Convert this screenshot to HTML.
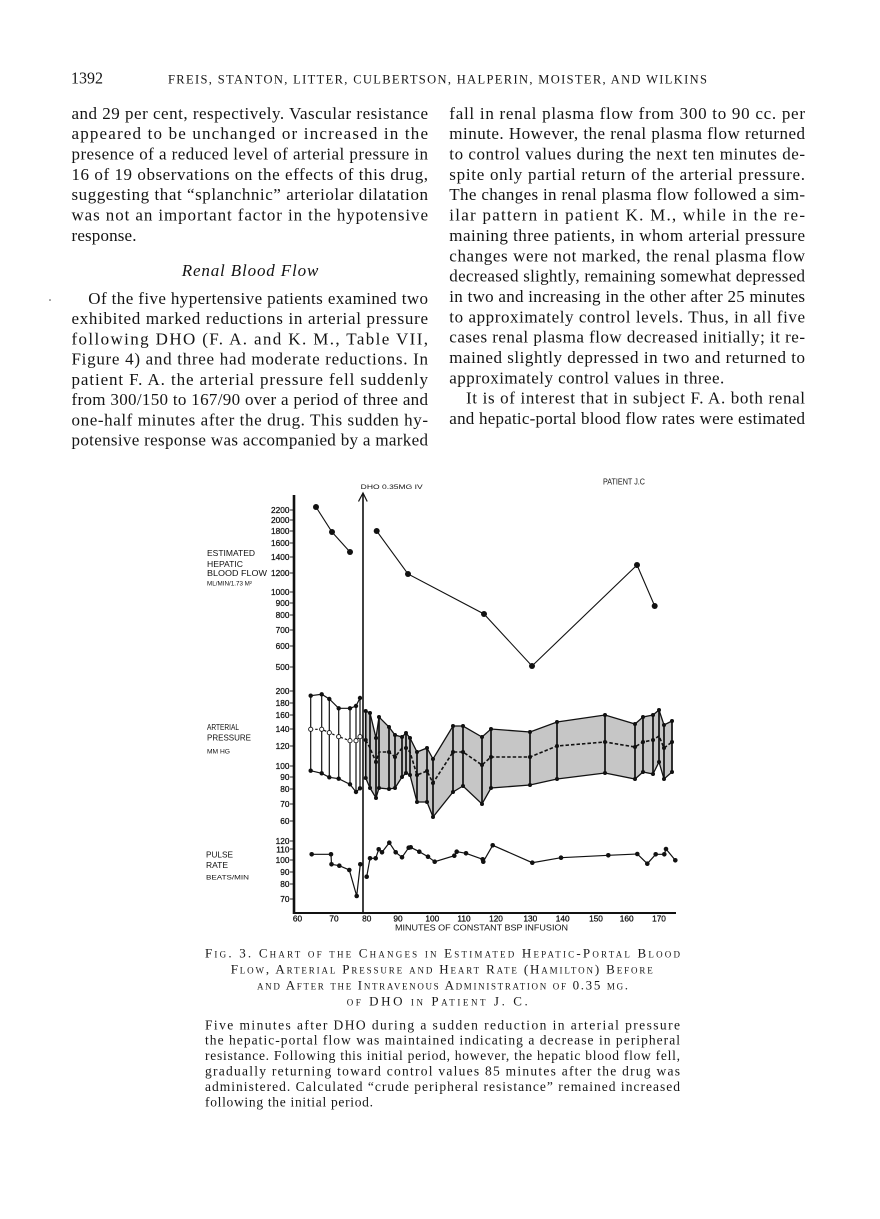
<!DOCTYPE html>
<html><head><meta charset="utf-8">
<style>
html,body{margin:0;padding:0;background:#fff;}
body{width:880px;height:1219px;overflow:hidden;position:relative;}
svg{position:absolute;left:0;top:0;}
.b{font-family:"Liberation Serif",serif;font-size:17px;fill:#141414;}
.h{font-family:"Liberation Serif",serif;font-size:12.5px;fill:#161616;}
.cap{font-family:"Liberation Serif",serif;font-size:13px;font-variant:small-caps;fill:#161616;}
.cp{font-family:"Liberation Serif",serif;font-size:13.5px;fill:#161616;}
.t{font-family:"Liberation Sans",sans-serif;font-size:8.3px;fill:#111;stroke:#111;stroke-width:0.25;}
.lb{font-family:"Liberation Sans",sans-serif;font-size:8.5px;fill:#111;}
.sm{font-family:"Liberation Sans",sans-serif;font-size:6.5px;fill:#111;}
</style></head><body>
<svg width="880" height="1219" viewBox="0 0 880 1219" xmlns="http://www.w3.org/2000/svg">
<!-- header -->
<text class="b" x="71" y="83.3" textLength="32" lengthAdjust="spacingAndGlyphs">1392</text>
<text class="h" x="168" y="83.3" textLength="539" lengthAdjust="spacing">FREIS, STANTON, LITTER, CULBERTSON, HALPERIN, MOISTER, AND WILKINS</text>

<!-- left column -->
<g class="b">
<text x="71.5" y="118.8" textLength="356.5" lengthAdjust="spacing">and 29 per cent, respectively.  Vascular resistance</text>
<text x="71.5" y="139.15" textLength="356.5" lengthAdjust="spacing">appeared to be unchanged or increased in the</text>
<text x="71.5" y="159.5" textLength="356.5" lengthAdjust="spacing">presence of a reduced level of arterial pressure in</text>
<text x="71.5" y="179.85" textLength="356.5" lengthAdjust="spacing">16 of 19 observations on the effects of this drug,</text>
<text x="71.5" y="200.2" textLength="356.5" lengthAdjust="spacing">suggesting that “splanchnic” arteriolar dilatation</text>
<text x="71.5" y="220.55" textLength="356.5" lengthAdjust="spacing">was not an important factor in the hypotensive</text>
<text x="71.5" y="240.9" textLength="65" lengthAdjust="spacing">response.</text>
<text x="181.7" y="276" textLength="136.6" lengthAdjust="spacing" font-style="italic">Renal Blood Flow</text>
<text x="88.3" y="303.8" textLength="339.7" lengthAdjust="spacing">Of the five hypertensive patients examined two</text>
<text x="71.5" y="324.05" textLength="356.5" lengthAdjust="spacing">exhibited marked reductions in arterial pressure</text>
<text x="71.5" y="344.3" textLength="356.5" lengthAdjust="spacing">following DHO (F. A. and K. M., Table VII,</text>
<text x="71.5" y="364.55" textLength="356.5" lengthAdjust="spacing">Figure 4) and three had moderate reductions.  In</text>
<text x="71.5" y="384.8" textLength="356.5" lengthAdjust="spacing">patient F. A. the arterial pressure fell suddenly</text>
<text x="71.5" y="405.05" textLength="356.5" lengthAdjust="spacing">from 300/150 to 167/90 over a period of three and</text>
<text x="71.5" y="425.3" textLength="356.5" lengthAdjust="spacing">one-half minutes after the drug.  This sudden hy-</text>
<text x="71.5" y="445.55" textLength="356.5" lengthAdjust="spacing">potensive response was accompanied by a marked</text>
</g>
<circle cx="50" cy="300" r="0.8" fill="#444"/>

<!-- right column -->
<g class="b">
<text x="449.3" y="118.8" textLength="355.7" lengthAdjust="spacing">fall in renal plasma flow from 300 to 90 cc. per</text>
<text x="449.3" y="139.15" textLength="355.7" lengthAdjust="spacing">minute.  However, the renal plasma flow returned</text>
<text x="449.3" y="159.5" textLength="355.7" lengthAdjust="spacing">to control values during the next ten minutes de-</text>
<text x="449.3" y="179.85" textLength="355.7" lengthAdjust="spacing">spite only partial return of the arterial pressure.</text>
<text x="449.3" y="200.2" textLength="355.7" lengthAdjust="spacing">The changes in renal plasma flow followed a sim-</text>
<text x="449.3" y="220.55" textLength="355.7" lengthAdjust="spacing">ilar pattern in patient K. M., while in the re-</text>
<text x="449.3" y="240.9" textLength="355.7" lengthAdjust="spacing">maining three patients, in whom arterial pressure</text>
<text x="449.3" y="261.25" textLength="355.7" lengthAdjust="spacing">changes were not marked, the renal plasma flow</text>
<text x="449.3" y="281.6" textLength="355.7" lengthAdjust="spacing">decreased slightly, remaining somewhat depressed</text>
<text x="449.3" y="301.95" textLength="355.7" lengthAdjust="spacing">in two and increasing in the other after 25 minutes</text>
<text x="449.3" y="322.3" textLength="355.7" lengthAdjust="spacing">to approximately control levels.  Thus, in all five</text>
<text x="449.3" y="342.65" textLength="355.7" lengthAdjust="spacing">cases renal plasma flow decreased initially; it re-</text>
<text x="449.3" y="363" textLength="355.7" lengthAdjust="spacing">mained slightly depressed in two and returned to</text>
<text x="449.3" y="383.35" textLength="275" lengthAdjust="spacing">approximately control values in three.</text>
<text x="466" y="403.7" textLength="339" lengthAdjust="spacing">It is of interest that in subject F. A. both renal</text>
<text x="449.3" y="424.05" textLength="355.7" lengthAdjust="spacing">and hepatic-portal blood flow rates were estimated</text>
</g>

<!-- ================= CHART ================= -->
<line x1="294" y1="495" x2="294" y2="914" stroke="#111" stroke-width="2.6"/>
<line x1="293" y1="913" x2="676" y2="913" stroke="#111" stroke-width="2"/>
<line x1="363" y1="494" x2="363" y2="913" stroke="#111" stroke-width="1.6"/>
<polyline points="358.5,501.5 363,493 367.2,501.5" fill="none" stroke="#111" stroke-width="1.2"/>
<text class="sm" x="360.7" y="489" textLength="62" lengthAdjust="spacingAndGlyphs" font-size="7.3">DHO 0.35MG IV</text>
<text class="lb" x="603" y="484.5" textLength="42" lengthAdjust="spacingAndGlyphs" font-size="8">PATIENT J.C</text>

<text class="lb" x="207" y="556" textLength="48" lengthAdjust="spacingAndGlyphs">ESTIMATED</text>
<text class="lb" x="207" y="567" textLength="36" lengthAdjust="spacingAndGlyphs">HEPATIC</text>
<text class="lb" x="207" y="576" textLength="60" lengthAdjust="spacingAndGlyphs">BLOOD FLOW</text>
<text class="sm" x="207" y="585.5" textLength="45" lengthAdjust="spacingAndGlyphs">ML/MIN/1.73 M²</text>
<text class="lb" x="207" y="730" textLength="32" lengthAdjust="spacingAndGlyphs">ARTERIAL</text>
<text class="lb" x="207" y="740.5" textLength="44" lengthAdjust="spacingAndGlyphs">PRESSURE</text>
<text class="sm" x="207" y="753.5" textLength="23" lengthAdjust="spacingAndGlyphs">MM HG</text>
<text class="lb" x="206" y="857.3" textLength="27" lengthAdjust="spacingAndGlyphs">PULSE</text>
<text class="lb" x="206" y="868" textLength="22" lengthAdjust="spacingAndGlyphs">RATE</text>
<text class="sm" x="206" y="879.5" textLength="43" lengthAdjust="spacingAndGlyphs">BEATS/MIN</text>

<g class="t" text-anchor="end">
<text x="289.5" y="513">2200</text>
<text x="289.5" y="523">2000</text>
<text x="289.5" y="534">1800</text>
<text x="289.5" y="546">1600</text>
<text x="289.5" y="560">1400</text>
<text x="289.5" y="576">1200</text>
<text x="289.5" y="595">1000</text>
<text x="289.5" y="606">900</text>
<text x="289.5" y="618">800</text>
<text x="289.5" y="633">700</text>
<text x="289.5" y="649">600</text>
<text x="289.5" y="670">500</text>
<text x="289.5" y="694">200</text>
<text x="289.5" y="706">180</text>
<text x="289.5" y="718">160</text>
<text x="289.5" y="732">140</text>
<text x="289.5" y="749">120</text>
<text x="289.5" y="769">100</text>
<text x="289.5" y="780">90</text>
<text x="289.5" y="792">80</text>
<text x="289.5" y="807">70</text>
<text x="289.5" y="824">60</text>
<text x="289.5" y="844">120</text>
<text x="289.5" y="852.3">110</text>
<text x="289.5" y="863">100</text>
<text x="289.5" y="875">90</text>
<text x="289.5" y="887">80</text>
<text x="289.5" y="902">70</text>
</g>
<g stroke="#111" stroke-width="0.9">
<line x1="290" y1="510" x2="294" y2="510"/><line x1="290" y1="520" x2="294" y2="520"/>
<line x1="290" y1="531" x2="294" y2="531"/><line x1="290" y1="543" x2="294" y2="543"/>
<line x1="290" y1="557" x2="294" y2="557"/><line x1="290" y1="573" x2="294" y2="573"/>
<line x1="290" y1="592" x2="294" y2="592"/><line x1="290" y1="603" x2="294" y2="603"/>
<line x1="290" y1="615" x2="294" y2="615"/><line x1="290" y1="630" x2="294" y2="630"/>
<line x1="290" y1="646" x2="294" y2="646"/><line x1="290" y1="667" x2="294" y2="667"/>
<line x1="290" y1="691" x2="294" y2="691"/><line x1="290" y1="703" x2="294" y2="703"/>
<line x1="290" y1="715" x2="294" y2="715"/><line x1="290" y1="729" x2="294" y2="729"/>
<line x1="290" y1="746" x2="294" y2="746"/><line x1="290" y1="766" x2="294" y2="766"/>
<line x1="290" y1="777" x2="294" y2="777"/><line x1="290" y1="789" x2="294" y2="789"/>
<line x1="290" y1="804" x2="294" y2="804"/><line x1="290" y1="821" x2="294" y2="821"/>
<line x1="290" y1="841" x2="294" y2="841"/><line x1="290" y1="849" x2="294" y2="849"/>
<line x1="290" y1="860" x2="294" y2="860"/><line x1="290" y1="872" x2="294" y2="872"/>
<line x1="290" y1="884" x2="294" y2="884"/><line x1="290" y1="899" x2="294" y2="899"/>
</g>

<g class="t" text-anchor="middle" font-size="8">
<text x="297.5" y="921.5">60</text>
<text x="334" y="921.5">70</text>
<text x="366.7" y="921.5">80</text>
<text x="398" y="921.5">90</text>
<text x="432.3" y="921.5">100</text>
<text x="464" y="921.5">110</text>
<text x="496" y="921.5">120</text>
<text x="530.3" y="921.5">130</text>
<text x="562.7" y="921.5">140</text>
<text x="596" y="921.5">150</text>
<text x="626.7" y="921.5">160</text>
<text x="659" y="921.5">170</text>
</g>
<text class="lb" x="395" y="930.5" textLength="173" lengthAdjust="spacingAndGlyphs">MINUTES OF CONSTANT BSP INFUSION</text>

<!-- hepatic flow -->
<g fill="none" stroke="#111" stroke-width="1.1">
<polyline points="316,507 332,532 350,552"/>
<polyline points="376.7,531 408,574 484,614 532,666 637,565 654.7,606"/>
</g>
<g fill="#111">
<circle cx="316" cy="507" r="3"/><circle cx="332" cy="532" r="3"/><circle cx="350" cy="552" r="3"/>
<circle cx="376.7" cy="531" r="3"/><circle cx="408" cy="574" r="3"/><circle cx="484" cy="614" r="3"/>
<circle cx="532" cy="666" r="3"/><circle cx="637" cy="565" r="3"/><circle cx="654.7" cy="606" r="3"/>
</g>

<!-- arterial pressure: post-drug band -->
<polygon fill="#c6c6c6" stroke="none" points="365.7,711 370,713 376,738 379,717 389,727 395,735 402,737 406,733 410,738 417,752 427,748 433,759 453,726 463,726 482,737 491,729 530,732 557,722 605,715 635,724 643,717 653,715 659,710 664,725 672,721 672,772 664,779 659,762 653,774 643,772 635,779 605,773 557,779 530,785 491,788 482,804 463,786 453,792 433,817 427,802 417,802 410,775 406,773 402,777 395,788 389,789 379,788 376,798 370,788 365.7,778"/>
<g fill="none" stroke="#111" stroke-width="1.3">
<polyline points="365.7,711 370,713 376,738 379,717 389,727 395,735 402,737 406,733 410,738 417,752 427,748 433,759 453,726 463,726 482,737 491,729 530,732 557,722 605,715 635,724 643,717 653,715 659,710 664,725 672,721"/>
<polyline points="365.7,778 370,788 376,798 379,788 389,789 395,788 402,777 406,773 410,775 417,802 427,802 433,817 453,792 463,786 482,804 491,788 530,785 557,779 605,773 635,779 643,772 653,774 659,762 664,779 672,772"/>
<polyline stroke-dasharray="3.5,2" stroke-width="1.6" points="365.7,740 370,748 376,762 379,752 389,752 395,757 402,748 406,748 410,752 417,775 427,771 433,783 453,752 463,752 482,765 491,757 530,757 557,746 605,742 635,747 643,742 653,740 659,736 664,748 672,742"/>
</g>
<g stroke="#111" stroke-width="1.7">
<line x1="365.7" y1="711" x2="365.7" y2="778"/><line x1="370" y1="713" x2="370" y2="788"/>
<line x1="376" y1="738" x2="376" y2="798"/><line x1="379" y1="717" x2="379" y2="788"/>
<line x1="389" y1="727" x2="389" y2="789"/><line x1="395" y1="735" x2="395" y2="788"/>
<line x1="402" y1="737" x2="402" y2="777"/><line x1="406" y1="733" x2="406" y2="773"/>
<line x1="410" y1="738" x2="410" y2="775"/><line x1="417" y1="752" x2="417" y2="802"/>
<line x1="427" y1="748" x2="427" y2="802"/><line x1="433" y1="759" x2="433" y2="817"/>
<line x1="453" y1="726" x2="453" y2="792"/><line x1="463" y1="726" x2="463" y2="786"/>
<line x1="482" y1="737" x2="482" y2="804"/><line x1="491" y1="729" x2="491" y2="788"/>
<line x1="530" y1="732" x2="530" y2="785"/><line x1="557" y1="722" x2="557" y2="779"/>
<line x1="605" y1="715" x2="605" y2="773"/><line x1="635" y1="724" x2="635" y2="779"/>
<line x1="643" y1="717" x2="643" y2="772"/><line x1="653" y1="715" x2="653" y2="774"/>
<line x1="659" y1="710" x2="659" y2="762"/><line x1="664" y1="725" x2="664" y2="779"/>
<line x1="672" y1="721" x2="672" y2="772"/>
</g>
<g fill="#111">
<circle cx="365.7" cy="711" r="2"/><circle cx="370" cy="713" r="2"/><circle cx="376" cy="738" r="2"/><circle cx="379" cy="717" r="2"/><circle cx="389" cy="727" r="2"/><circle cx="395" cy="735" r="2"/><circle cx="402" cy="737" r="2"/><circle cx="406" cy="733" r="2"/><circle cx="410" cy="738" r="2"/><circle cx="417" cy="752" r="2"/><circle cx="427" cy="748" r="2"/><circle cx="433" cy="759" r="2"/><circle cx="453" cy="726" r="2"/><circle cx="463" cy="726" r="2"/><circle cx="482" cy="737" r="2"/><circle cx="491" cy="729" r="2"/><circle cx="530" cy="732" r="2"/><circle cx="557" cy="722" r="2"/><circle cx="605" cy="715" r="2"/><circle cx="635" cy="724" r="2"/><circle cx="643" cy="717" r="2"/><circle cx="653" cy="715" r="2"/><circle cx="659" cy="710" r="2"/><circle cx="664" cy="725" r="2"/><circle cx="672" cy="721" r="2"/>
<circle cx="365.7" cy="778" r="2"/><circle cx="370" cy="788" r="2"/><circle cx="376" cy="798" r="2"/><circle cx="379" cy="788" r="2"/><circle cx="389" cy="789" r="2"/><circle cx="395" cy="788" r="2"/><circle cx="402" cy="777" r="2"/><circle cx="406" cy="773" r="2"/><circle cx="410" cy="775" r="2"/><circle cx="417" cy="802" r="2"/><circle cx="427" cy="802" r="2"/><circle cx="433" cy="817" r="2"/><circle cx="453" cy="792" r="2"/><circle cx="463" cy="786" r="2"/><circle cx="482" cy="804" r="2"/><circle cx="491" cy="788" r="2"/><circle cx="530" cy="785" r="2"/><circle cx="557" cy="779" r="2"/><circle cx="605" cy="773" r="2"/><circle cx="635" cy="779" r="2"/><circle cx="643" cy="772" r="2"/><circle cx="653" cy="774" r="2"/><circle cx="659" cy="762" r="2"/><circle cx="664" cy="779" r="2"/><circle cx="672" cy="772" r="2"/>
<circle cx="365.7" cy="740" r="2"/><circle cx="376" cy="762" r="2"/><circle cx="389" cy="752" r="2"/><circle cx="395" cy="757" r="2"/><circle cx="406" cy="748" r="2"/><circle cx="417" cy="775" r="2"/><circle cx="427" cy="771" r="2"/><circle cx="433" cy="783" r="2"/><circle cx="453" cy="752" r="2"/><circle cx="463" cy="752" r="2"/><circle cx="482" cy="765" r="2"/><circle cx="491" cy="757" r="2"/><circle cx="530" cy="757" r="2"/><circle cx="557" cy="746" r="2"/><circle cx="605" cy="742" r="2"/><circle cx="635" cy="747" r="2"/><circle cx="643" cy="742" r="2"/><circle cx="653" cy="740" r="2"/><circle cx="664" cy="748" r="2"/><circle cx="672" cy="742" r="2"/>
</g>

<!-- arterial pressure: pre-drug -->
<g fill="none" stroke="#111" stroke-width="1.2">
<polyline points="310.7,695.7 321.7,694.3 329.3,699 338.7,708.3 350,708.3 356,706 360,698"/>
<polyline points="310.7,770.7 321.7,773.3 329.3,777.3 338.7,778.7 350,784.3 356,792 360,788.3"/>
<polyline stroke-dasharray="2.5,2" points="310.7,729.3 321.7,729.3 329.3,732.7 338.7,736.7 350,740.7 356,740.7 360,736.7"/>
<line x1="310.7" y1="695.7" x2="310.7" y2="770.7"/><line x1="321.7" y1="694.3" x2="321.7" y2="773.3"/>
<line x1="329.3" y1="699" x2="329.3" y2="777.3"/><line x1="338.7" y1="708.3" x2="338.7" y2="778.7"/>
<line x1="350" y1="708.3" x2="350" y2="784.3"/><line x1="356" y1="706" x2="356" y2="792"/>
<line x1="360" y1="698" x2="360" y2="788.3"/>
</g>
<g fill="#111">
<circle cx="310.7" cy="695.7" r="2.2"/><circle cx="321.7" cy="694.3" r="2.2"/><circle cx="329.3" cy="699" r="2.2"/><circle cx="338.7" cy="708.3" r="2.2"/><circle cx="350" cy="708.3" r="2.2"/><circle cx="356" cy="706" r="2.2"/><circle cx="360" cy="698" r="2.2"/>
<circle cx="310.7" cy="770.7" r="2.2"/><circle cx="321.7" cy="773.3" r="2.2"/><circle cx="329.3" cy="777.3" r="2.2"/><circle cx="338.7" cy="778.7" r="2.2"/><circle cx="350" cy="784.3" r="2.2"/><circle cx="356" cy="792" r="2.2"/><circle cx="360" cy="788.3" r="2.2"/>
</g>
<g fill="#fff" stroke="#111" stroke-width="0.9">
<circle cx="310.7" cy="729.3" r="2.1"/><circle cx="321.7" cy="729.3" r="2.1"/><circle cx="329.3" cy="732.7" r="2.1"/><circle cx="338.7" cy="736.7" r="2.1"/><circle cx="350" cy="740.7" r="2.1"/><circle cx="356" cy="740.7" r="2.1"/><circle cx="360" cy="736.7" r="2.1"/>
</g>

<!-- pulse -->
<g fill="none" stroke="#111" stroke-width="1.2">
<polyline points="311.7,854.3 331,854.3 331.5,864.3 339.3,865.7 349.3,870 356.7,896 360.3,864.3"/>
<polyline points="366.7,876.7 370,858.3 375.7,858.3 378.7,849.3 382,852.3 389.3,842.7 395.7,852.3 402,857.3 408.7,847.7 410.7,847.3 419.3,851.7 428,856.7 434.7,861.7 454.3,855.7 456.7,851.7 466,853.3 482.7,859.3 483.3,861.7 492.7,845.3 532.3,862.7 561,857.7 608.3,855.3 637.3,854 647.3,863.7 655.7,854.3 664.3,854.3 666,849 675.3,860.3"/>
</g>
<g fill="#111">
<circle cx="311.7" cy="854.3" r="2.3"/><circle cx="331" cy="854.3" r="2.3"/><circle cx="331.5" cy="864.3" r="2.3"/><circle cx="339.3" cy="865.7" r="2.3"/><circle cx="349.3" cy="870" r="2.3"/><circle cx="356.7" cy="896" r="2.3"/><circle cx="360.3" cy="864.3" r="2.3"/>
<circle cx="366.7" cy="876.7" r="2.3"/><circle cx="370" cy="858.3" r="2.3"/><circle cx="375.7" cy="858.3" r="2.3"/><circle cx="378.7" cy="849.3" r="2.3"/><circle cx="382" cy="852.3" r="2.3"/><circle cx="389.3" cy="842.7" r="2.3"/><circle cx="395.7" cy="852.3" r="2.3"/><circle cx="402" cy="857.3" r="2.3"/><circle cx="408.7" cy="847.7" r="2.3"/><circle cx="410.7" cy="847.3" r="2.3"/><circle cx="419.3" cy="851.7" r="2.3"/><circle cx="428" cy="856.7" r="2.3"/><circle cx="434.7" cy="861.7" r="2.3"/><circle cx="454.3" cy="855.7" r="2.3"/><circle cx="456.7" cy="851.7" r="2.3"/><circle cx="466" cy="853.3" r="2.3"/><circle cx="482.7" cy="859.3" r="2.3"/><circle cx="483.3" cy="861.7" r="2.3"/><circle cx="492.7" cy="845.3" r="2.3"/><circle cx="532.3" cy="862.7" r="2.3"/><circle cx="561" cy="857.7" r="2.3"/><circle cx="608.3" cy="855.3" r="2.3"/><circle cx="637.3" cy="854" r="2.3"/><circle cx="647.3" cy="863.7" r="2.3"/><circle cx="655.7" cy="854.3" r="2.3"/><circle cx="664.3" cy="854.3" r="2.3"/><circle cx="666" cy="849" r="2.3"/><circle cx="675.3" cy="860.3" r="2.3"/>
</g>

<!-- caption -->
<text class="cap" x="205" y="957.7" textLength="475" lengthAdjust="spacing">Fig. 3. Chart of the Changes in Estimated Hepatic-Portal Blood</text>
<text class="cap" x="230.7" y="973.7" textLength="422" lengthAdjust="spacing">Flow, Arterial Pressure and Heart Rate (Hamilton) Before</text>
<text class="cap" x="257" y="989.7" textLength="371" lengthAdjust="spacing">and After the Intravenous Administration of 0.35 mg.</text>
<text class="cap" x="346.7" y="1005.7" textLength="181" lengthAdjust="spacing">of DHO in Patient J. C.</text>

<g class="cp">
<text x="205" y="1029.3" textLength="475" lengthAdjust="spacing">Five minutes after DHO during a sudden reduction in arterial pressure</text>
<text x="205" y="1044.7" textLength="475" lengthAdjust="spacing">the hepatic-portal flow was maintained indicating a decrease in peripheral</text>
<text x="205" y="1060.1" textLength="475" lengthAdjust="spacing">resistance.  Following this initial period, however, the hepatic blood flow fell,</text>
<text x="205" y="1075.5" textLength="475" lengthAdjust="spacing">gradually returning toward control values 85 minutes after the drug was</text>
<text x="205" y="1090.9" textLength="475" lengthAdjust="spacing">administered.  Calculated “crude peripheral resistance” remained increased</text>
<text x="205" y="1106.3" textLength="168" lengthAdjust="spacing">following the initial period.</text>
</g>
</svg>
</body></html>
